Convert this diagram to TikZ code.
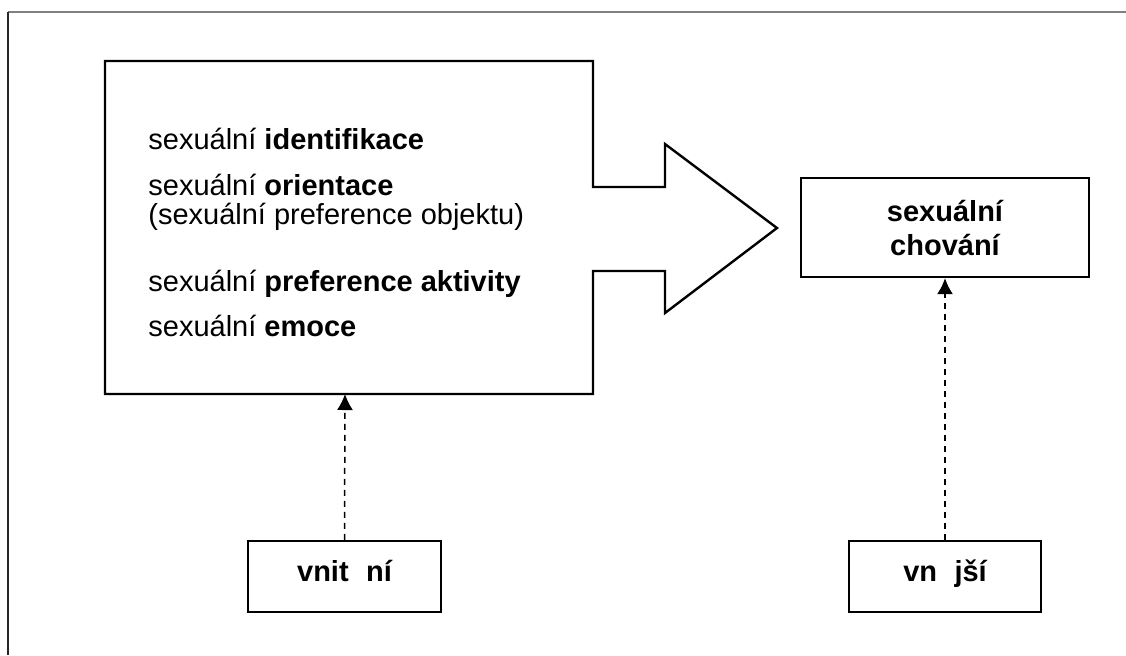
\documentclass[tikz,border=0pt]{standalone}
\usepackage{fontspec}
\setmainfont{Liberation Sans}
\usepackage{tikz}
\usetikzlibrary{arrows.meta}

\begin{document}
\begin{tikzpicture}[x=0.5pt,y=-0.5pt,
  font=\fontsize{14.5}{17}\selectfont,
  box/.style={draw, line width=1.2pt, inner sep=0pt, align=center, font=\fontsize{14.5}{17}\selectfont\bfseries},
  radek/.style={anchor=base west, inner sep=0pt},
  sipka/.style={line width=0.75pt, dash pattern=on 3pt off 2.5pt, -{Latex[length=8pt,width=8pt]}}]
\useasboundingbox (0,0) rectangle (1126,655);
%% frame
\draw[gray, line width=1.3pt] (8,12) -- (1126,12);
\draw[black!85, line width=1pt] (8,12) -- (8,655);
%% block with arrow
\draw[line width=1.2pt, line join=miter] (105,61) -- (593,61) -- (593,187) -- (665,187) -- (665,144)
  -- (777,228) -- (665,313) -- (665,271) -- (593,271) -- (593,394) -- (105,394) -- cycle;
\coordinate (blokdole) at (345,394);
\node[radek] (identifikace) at (148,149) {sexuální \textbf{identifikace}};
\node[radek] (orientace) at (148,195) {sexuální \textbf{orientace}};
\node[radek] (objekt) at (148,224) {(sexuální preference objektu)};
\node[radek] (aktivita) at (148,291) {sexuální \textbf{preference aktivity}};
\node[radek] (emoce) at (148,336) {sexuální \textbf{emoce}};
%% boxes
\node[box, minimum width=144pt, minimum height=49.5pt] (chovani) at (945,227.5) {sexuální\\chování};
\node[box, minimum width=96.5pt, minimum height=35.5pt, text depth=6pt] (vnitrni) at (344.5,576.5) {vnit\hspace{0.6em}ní};
\node[box, minimum width=96pt, minimum height=35.5pt, text depth=6pt] (vnejsi) at (945,576.5) {vn\hspace{0.6em}jší};
%% dashed arrows
\draw[sipka] (vnitrni.north) -- (blokdole);
\draw[sipka] (vnejsi.north) -- (chovani.south);
\end{tikzpicture}
\end{document}
